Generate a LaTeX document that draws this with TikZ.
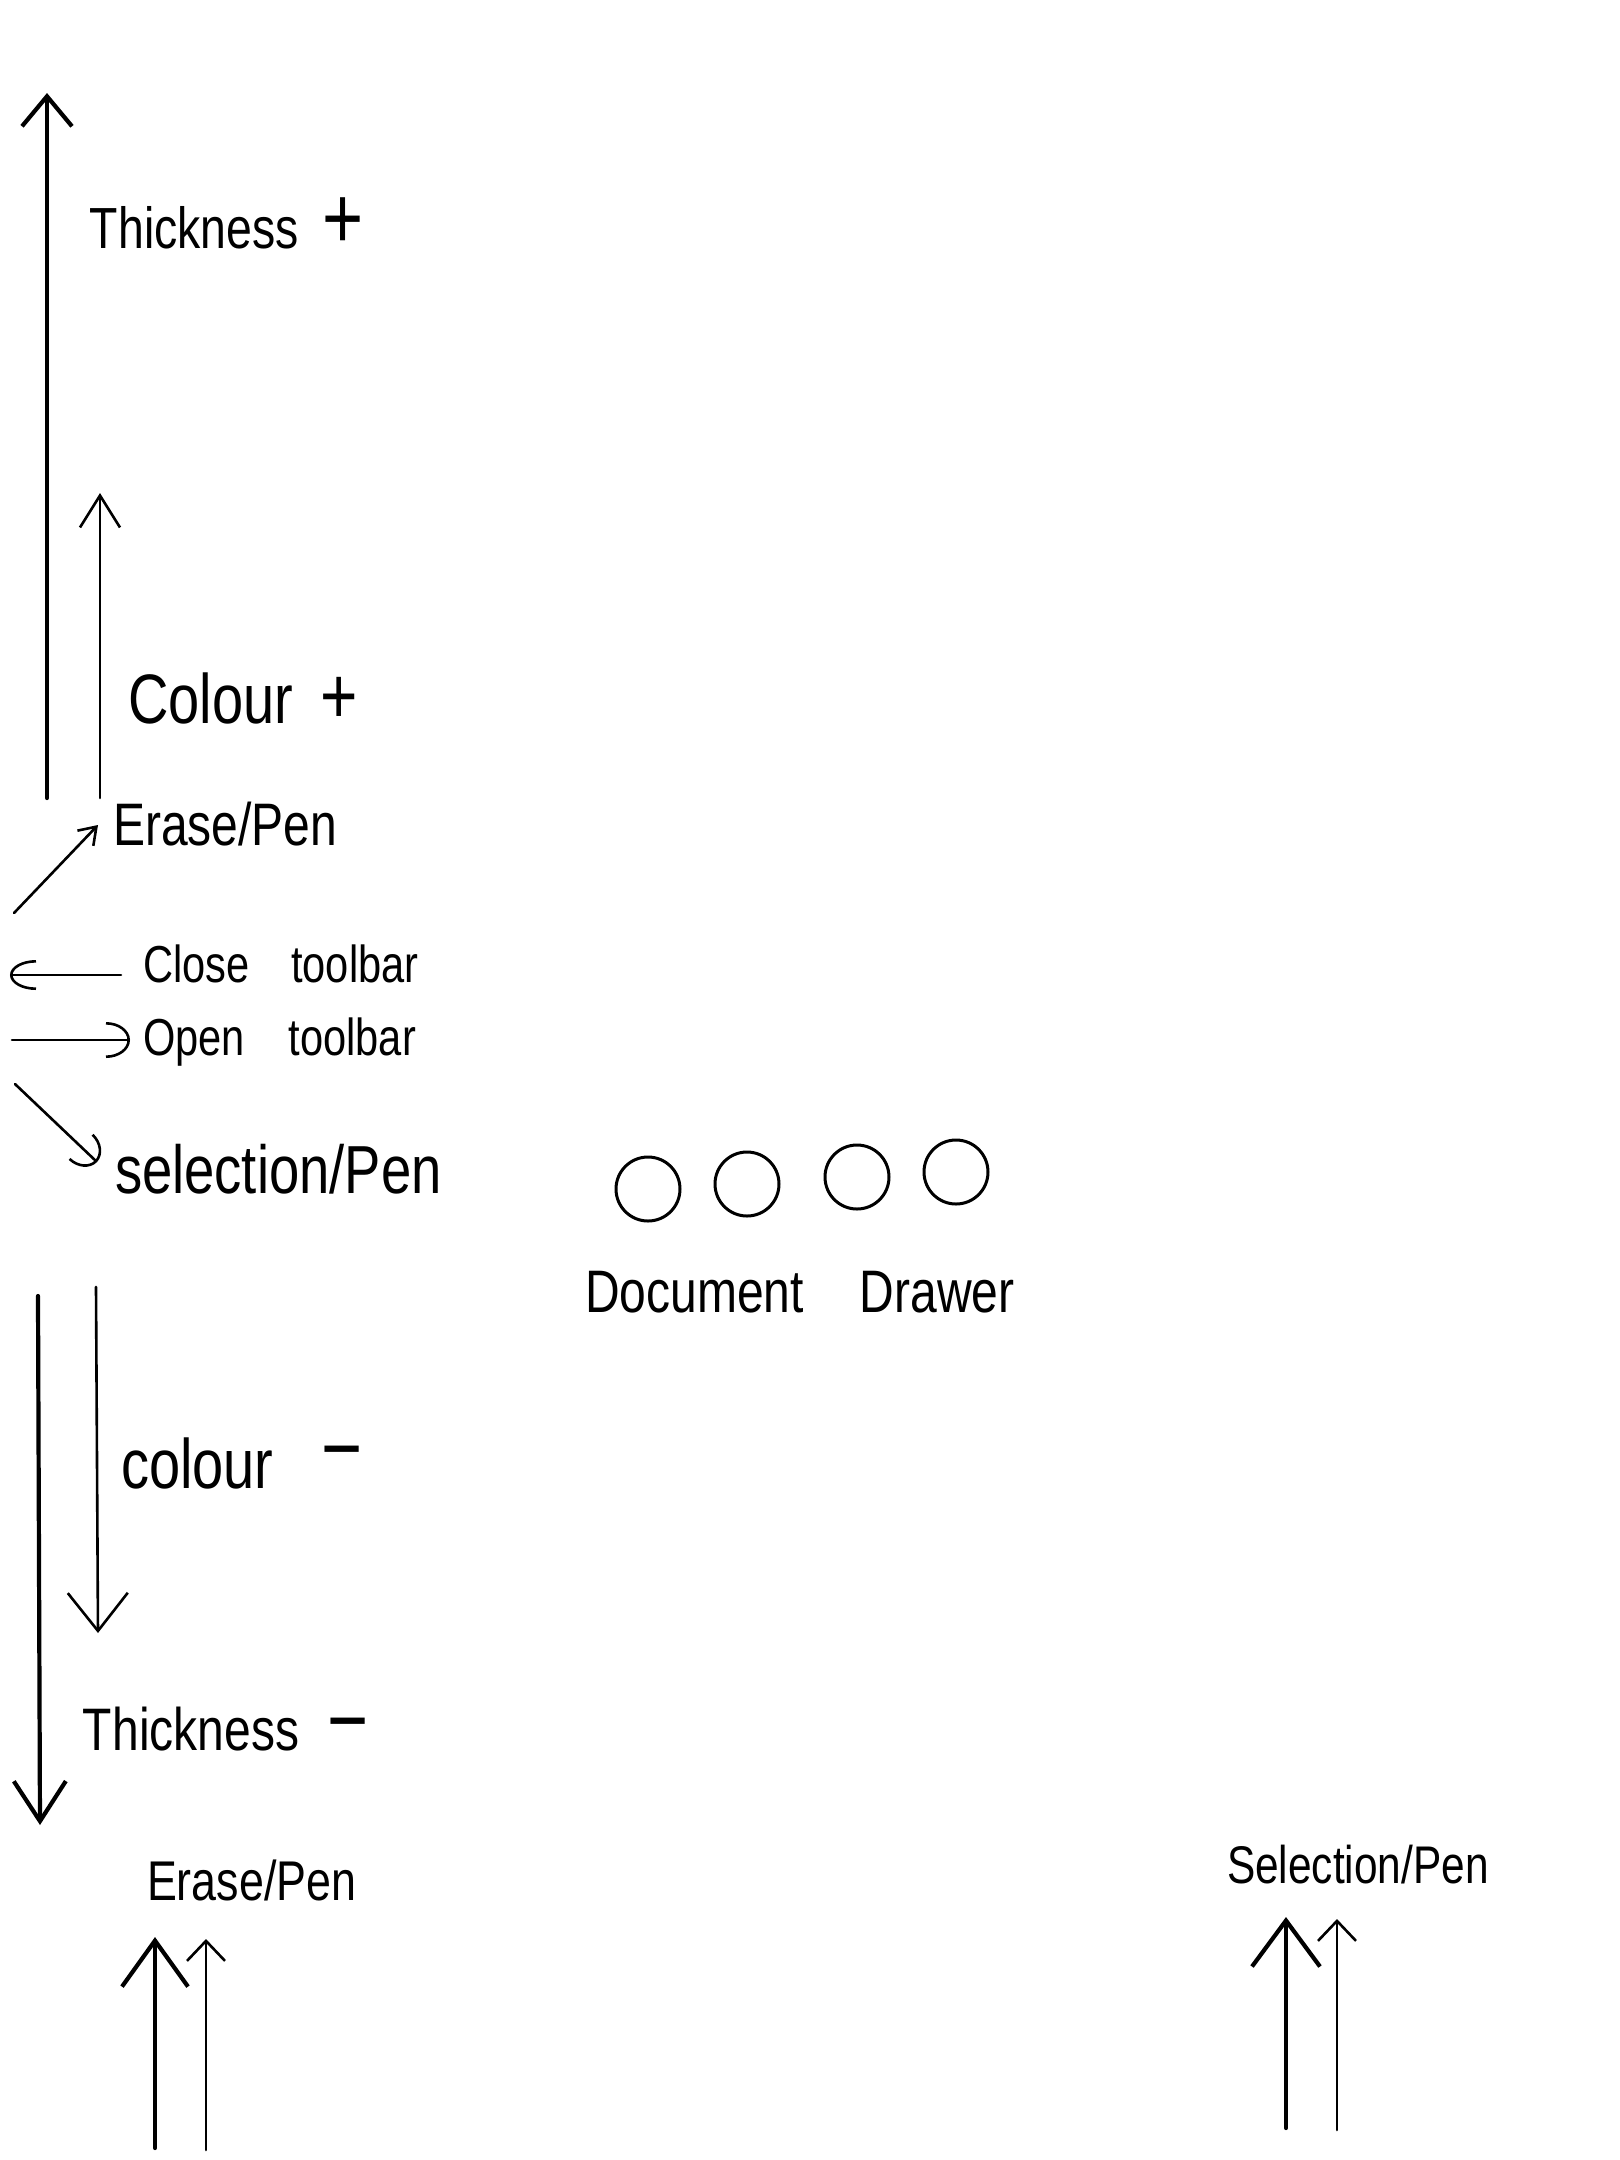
\documentclass[tikz,border=0pt]{standalone}
\usepackage{fontspec}
\newfontfamily\handfont[FakeStretch=0.8]{Liberation Sans}
\usetikzlibrary{arrows.meta}
\newcommand\hsz[1]{\handfont\fontsize{#1}{#1}\selectfont}
\newcommand\bigsign[2]{{\fontsize{#1}{#1}\selectfont #2}}
\tikzset{
  pen/.style={line width=1.3pt, line cap=round, line join=round},
  heavy/.style={line width=2.1pt, line cap=round, line join=round},
  lbl/.style={anchor=base west, inner sep=0pt, outer sep=0pt},
  dot/.style={circle, draw, line width=1.5pt, minimum size=32pt, inner sep=0pt},
}
\begin{document}
\begin{tikzpicture}[x=0.5pt,y=-0.5pt]
\useasboundingbox[fill=white] (0,0) rectangle (1620,2160);

% ---------- labels ----------
\node[lbl, font=\hsz{29}] (thp) at (90,248) {Thickness\hspace{12pt}\bigsign{44}{+}};
\node[lbl, font=\hsz{35}] (cop) at (128,723) {Colour\hspace{14pt}\bigsign{40}{+}};
\node[lbl, font=\hsz{30}] (ep1) at (113,845) {Erase/Pen};
\node[lbl, font=\hsz{26}] (close) at (143,982) {Close\hspace{21pt}toolbar};
\node[lbl, font=\hsz{26}] (open) at (143,1055) {Open\hspace{22pt}toolbar};
\node[lbl, font=\hsz{34}] (sel1) at (115,1193) {selection/Pen};
\node[lbl, font=\hsz{30}] (dd) at (585,1312) {Document\hspace{28pt}Drawer};
\node[lbl, font=\hsz{35}] (com) at (121,1488) {colour\hspace{24pt}\bigsign{44}{\raisebox{5pt}{−}}};
\node[lbl, font=\hsz{30}] (thm) at (83,1750) {Thickness\hspace{14pt}\bigsign{44}{−}};
\node[lbl, font=\hsz{28}] (ep2) at (147,1900) {Erase/Pen};
\node[lbl, font=\hsz{26.5}] (sel2) at (1227,1883) {Selection/Pen};

% ---------- circles ----------
\node[dot] (c1) at (648,1189) {};
\node[dot] (c2) at (747,1184) {};
\node[dot] (c3) at (857,1177) {};
\node[dot] (c4) at (956,1172) {};

% ---------- arrow end points ----------
\coordinate (tA0) at (47,798);   \coordinate (tA1) at (47,93);
\coordinate (cA0) at (100,798);  \coordinate (cA1) at (100,493);
\coordinate (eA0) at (14,913);   \coordinate (eA1) at (98,825);
\coordinate (clA0) at (121,975); \coordinate (clA1) at (10,975);
\coordinate (opA0) at (12,1040); \coordinate (opA1) at (130,1040);
\coordinate (sA0) at (15,1084);  \coordinate (sA1) at (97,1162);
\coordinate (cdA0) at (96,1287); \coordinate (cdA1) at (98,1633);
\coordinate (tdA0) at (38,1296); \coordinate (tdA1) at (40,1825);
\coordinate (bl1a) at (155,2148); \coordinate (bl1b) at (155,1937);
\coordinate (bl2a) at (206,2150); \coordinate (bl2b) at (206,1939);
\coordinate (br1a) at (1286,2128); \coordinate (br1b) at (1286,1917);
\coordinate (br2a) at (1337,2130); \coordinate (br2b) at (1337,1919);

% ---------- arrows ----------
\draw[heavy, -{Straight Barb[length=15pt,width=25pt]}] (tA0) -- (tA1);
\draw[pen, -{Straight Barb[length=16pt,width=20pt]}] (cA0) -- (cA1);
\draw[pen, -{Straight Barb[length=8pt,width=11pt]}] (eA0) -- (eA1);
\draw[pen, -{Arc Barb[length=13pt,width=15pt]}] (clA0) -- (clA1);
\draw[pen, -{Arc Barb[length=12pt,width=18pt]}] (opA0) -- (opA1);
\draw[pen, -{Arc Barb[length=11pt,width=18pt]}] (sA0) -- (sA1);
\draw[heavy, -{Straight Barb[length=20pt,width=26pt]}] (tdA0) -- (tdA1);
\draw[pen, -{Straight Barb[length=19pt,width=30pt]}] (cdA0) -- (cdA1);
\draw[heavy, -{Straight Barb[length=23pt,width=33pt]}] (bl1a) -- (bl1b);
\draw[pen, -{Straight Barb[length=10pt,width=19pt]}] (bl2a) -- (bl2b);
\draw[heavy, -{Straight Barb[length=23pt,width=34pt]}] (br1a) -- (br1b);
\draw[pen, -{Straight Barb[length=10pt,width=19pt]}] (br2a) -- (br2b);
\end{tikzpicture}
\end{document}
